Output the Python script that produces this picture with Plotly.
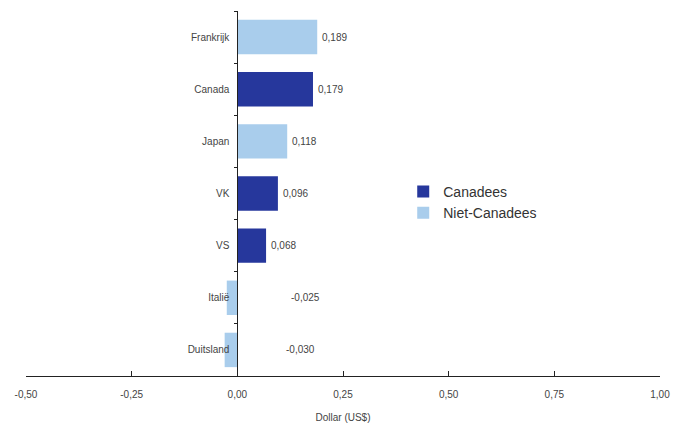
import plotly.graph_objects as go

categories = ["Frankrijk", "Canada", "Japan", "VK", "VS", "Italië", "Duitsland"]
values = [0.189, 0.179, 0.118, 0.096, 0.068, -0.025, -0.030]
groups = ["Niet-Canadees", "Canadees", "Niet-Canadees", "Canadees", "Canadees", "Niet-Canadees", "Niet-Canadees"]
series_names = ["Canadees", "Niet-Canadees"]
colors = {"Canadees": "#26379c", "Niet-Canadees": "#a9cdec"}
x_ticks = [-0.50, -0.25, 0.00, 0.25, 0.50, 0.75, 1.00]
x_tick_labels = ["-0,50", "-0,25", "0,00", "0,25", "0,50", "0,75", "1,00"]
x_range = [-0.5, 1.0]

fig = go.Figure()
for name in series_names:
    ys = [c for c, g in zip(categories, groups) if g == name]
    xs = [v for v, g in zip(values, groups) if g == name]
    fig.add_trace(go.Bar(
        y=ys, x=xs, orientation="h", name=name,
        marker=dict(color=colors[name], line=dict(width=0)),
        width=0.66,
    ))

for c, v in zip(categories, values):
    txt = f"{v:.3f}".replace(".", ",")
    if v >= 0:
        fig.add_annotation(x=v, y=c, text=txt, showarrow=False, xanchor="left",
                           xshift=3, font=dict(size=10, color="#444"))
    else:
        fig.add_annotation(x=0, y=c, text=txt, showarrow=False, xanchor="center",
                           xshift=int(68 + (v + 0.025) * 1000),
                           font=dict(size=10, color="#444"))

ypos = (0 - x_range[0]) / (x_range[1] - x_range[0])

fig.update_layout(
    width=681, height=430,
    margin=dict(l=18, r=29, t=3, b=62, autoexpand=False),
    paper_bgcolor="white", plot_bgcolor="white",
    barmode="overlay",
    font=dict(family="Liberation Sans Narrow, Arial, sans-serif", size=10, color="#444"),
    showlegend=True,
    legend=dict(x=0.595, y=0.548, xanchor="left", yanchor="top",
                font=dict(family="Liberation Sans, Arial, sans-serif", size=14, color="#333"),
                bgcolor="rgba(0,0,0,0)", itemsizing="constant", tracegroupgap=0),
    xaxis=dict(range=x_range, tickvals=x_ticks, ticktext=x_tick_labels,
               showgrid=False, zeroline=False, showline=True, linecolor="#222", linewidth=1,
               ticks="inside", ticklen=5, tickcolor="#222", automargin=False,
               ticklabelstandoff=9,
               title=dict(text="Dollar (US$)", font=dict(size=10, color="#444"), standoff=14),
               fixedrange=True),
    yaxis=dict(categoryorder="array", categoryarray=categories, autorange="reversed",
               anchor="free", position=ypos, automargin=False,
               showgrid=False, zeroline=False, showline=True, linecolor="#222", linewidth=1,
               ticks="outside", ticklen=3, tickcolor="#222", tickson="boundaries",
               ticklabelstandoff=6),
)

fig.write_html("out.html")
